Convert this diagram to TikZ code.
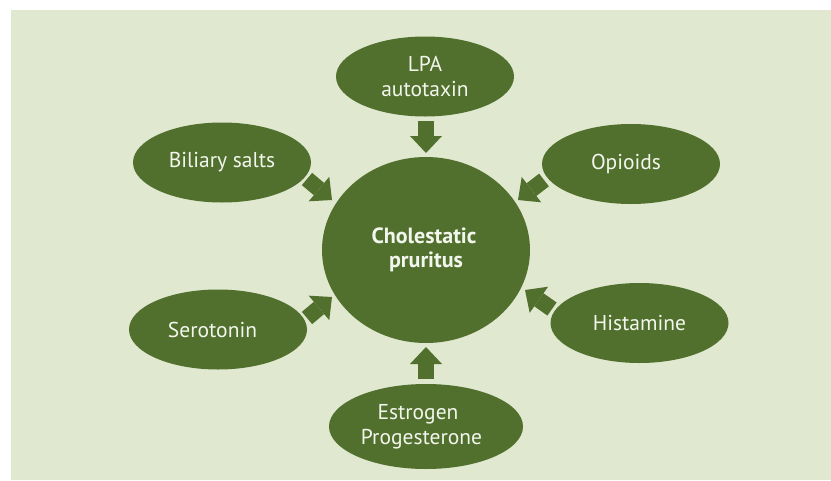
\documentclass[tikz,border=0pt]{standalone}
\usepackage{fontspec}
\setmainfont{PT Sans}
\usetikzlibrary{arrows.meta,shapes.geometric}
\definecolor{bg}{RGB}{224,232,208}
\definecolor{dg}{RGB}{81,112,46}
\definecolor{tx}{RGB}{242,246,236}
\begin{document}
\begin{tikzpicture}[x=1pt,y=-1pt,
  bub/.style={ellipse, fill=dg, text=tx, inner sep=0pt, minimum width=178pt, minimum height=80pt,
    font=\fontsize{21.5}{25}\selectfont, align=center},
  barrow/.style={draw=dg, line width=16pt, -{Triangle[width=32pt,length=17pt,line width=0pt]}}]
\fill[white] (0,0) rectangle (831,480);
\fill[bg] (11,10) rectangle (831,480);
\useasboundingbox (0,0) rectangle (831,480);
\node[bub, minimum width=208pt, minimum height=186pt, font=\fontsize{22}{24}\selectfont\bfseries] (c) at (426,250) {Cholestatic\hspace*{4pt}\\pruritus};
\node[bub] (lpa) at (425,76.5) {LPA\\autotaxin};
\node[bub] (bil) at (222,162.5) {Biliary salts};
\node[bub] (opi) at (631,164) {Opioids\hspace*{10pt}};
\node[bub] (his) at (639.5,323) {Histamine};
\node[bub] (ser) at (218,329.5) {Serotonin\hspace*{11pt}};
\node[bub, minimum width=194pt, minimum height=85pt] (est) at (426,426.5) {Estrogen\hspace*{16pt}\\Progesterone\hspace*{9pt}};
\coordinate (a1s) at (307,179); \coordinate (a1e) at (332,200);
\coordinate (a2s) at (426,121); \coordinate (a2e) at (426,153);
\coordinate (a3s) at (544,180); \coordinate (a3e) at (518,200);
\coordinate (a4s) at (552,309); \coordinate (a4e) at (525,290);
\coordinate (a5s) at (426,379); \coordinate (a5e) at (426,347);
\coordinate (a6s) at (307,318); \coordinate (a6e) at (332,297);
\draw[barrow] (a1s) -- (a1e);
\draw[barrow] (a2s) -- (a2e);
\draw[barrow] (a3s) -- (a3e);
\draw[barrow] (a4s) -- (a4e);
\draw[barrow] (a5s) -- (a5e);
\draw[barrow] (a6s) -- (a6e);
\end{tikzpicture}
\end{document}
